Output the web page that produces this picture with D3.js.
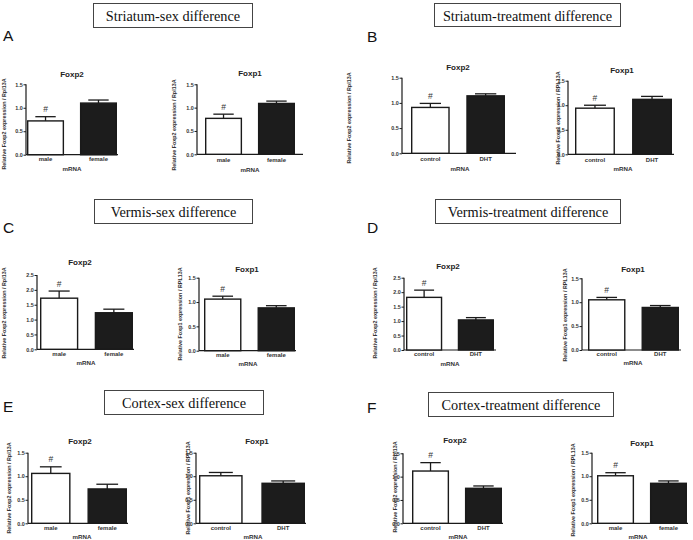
<!DOCTYPE html>
<html>
<head>
<meta charset="utf-8">
<script src="https://cdn.jsdelivr.net/npm/d3@7"></script>
<style>
  html, body { margin: 0; padding: 0; background: #fff; }
  svg { display: block; }
</style>
</head>
<body>
<svg id="chart" width="693" height="540"></svg>
<script>
// ---------------- DATA ----------------
const panelLetters = ["A", "B", "C", "D", "E", "F"];
const panelTitles = [
  "Striatum-sex difference", "Striatum-treatment difference",
  "Vermis-sex difference", "Vermis-treatment difference",
  "Cortex-sex difference", "Cortex-treatment difference"
];
// 12 sub-plots, two per panel (left, right)
const plotTitles = ["Foxp2", "Foxp1", "Foxp2", "Foxp1", "Foxp2", "Foxp1",
                    "Foxp2", "Foxp1", "Foxp2", "Foxp1", "Foxp2", "Foxp1"];
const sexCategories = ["male", "female"];
const treatmentCategories = ["control", "DHT"];
const plotCategories = [
  sexCategories, sexCategories,
  treatmentCategories, treatmentCategories,
  sexCategories, sexCategories,
  treatmentCategories, treatmentCategories,
  sexCategories, treatmentCategories,
  treatmentCategories, sexCategories
];
const meanValues = [
  [0.72, 1.10], [0.77, 1.09],
  [0.91, 1.14], [0.94, 1.12],
  [1.72, 1.23], [1.06, 0.88],
  [1.82, 1.04], [1.05, 0.89],
  [1.06, 0.73], [1.01, 0.85],
  [1.12, 0.75], [1.01, 0.85]
];
const semValues = [
  [0.09, 0.065], [0.09, 0.05],
  [0.08, 0.04], [0.06, 0.06],
  [0.24, 0.12], [0.06, 0.045],
  [0.25, 0.08], [0.05, 0.04],
  [0.14, 0.10], [0.07, 0.05],
  [0.18, 0.05], [0.065, 0.05]
];
const significantFirst = [true, true, true, true, true, true,
                          true, true, true, false, true, true];
const yMaxValues = [1.5, 1.5, 1.5, 1.5, 2.5, 1.5, 2.5, 1.5, 1.5, 1.5, 1.5, 1.5];
const yTickStep = 0.5;
const yAxisLabels = [
  "Relative Foxp2 expression / Rpl13A", "Relative Foxp2 expression / Rpl13A",
  "Relative Foxp2 expression / Rpl13A", "Relative Foxp1 expression / RPL13A",
  "Relative Foxp2 expression / Rpl13A", "Relative Foxp1 expression / RPL13A",
  "Relative Foxp2 expression / Rpl13A", "Relative Foxp1 expression / RPL13A",
  "Relative Foxp2 expression / Rpl13A", "Relative Foxp1 expression / RPL13A",
  "Relative Foxp2 expression / Rpl13A", "Relative Foxp1 expression / RPL13A"
];
const xAxisTitle = "mRNA";
const sigMark = "#";

// ---------------- LAYOUT ----------------
const panelLayout = [
  { box: [93, 3, 159, 24],  letter: [3, 41] },
  { box: [434, 3, 186, 23], letter: [367, 42] },
  { box: [94, 199, 158, 24], letter: [3, 233] },
  { box: [435, 199, 185, 24], letter: [367, 233] },
  { box: [104, 390, 159, 24], letter: [3, 412] },
  { box: [428, 392, 185, 24], letter: [367, 413] }
];
// ax: y-axis x, x0/x1: bar range, xEnd: x-axis end, y0: zero px, yT: top tick px
const plotLayout = [
  { ax: 26,  x0: 27,  x1: 117, xEnd: 118, y0: 154.7, yT: 84.3, title: [72, 74],   tickY: 159.3, mrna: [72, 168.3], ylab: [3.5, 124] },
  { ax: 197, x0: 205, x1: 295, xEnd: 303, y0: 154.3, yT: 84.3, title: [250, 73],  tickY: 160,   mrna: [250, 169],  ylab: [174, 125] },
  { ax: 402, x0: 411, x1: 505, xEnd: 516, y0: 153.3, yT: 77.7, title: [458, 67],  tickY: 159.3, mrna: [460, 168.3], ylab: [348.5, 118] },
  { ax: 568, x0: 575, x1: 672, xEnd: 674, y0: 154.3, yT: 80.7, title: [622, 70],  tickY: 160,   mrna: [623, 168.3], ylab: [558, 118] },
  { ax: 37,  x0: 40,  x1: 133, xEnd: 134, y0: 349.3, yT: 275,  title: [80, 262.3], tickY: 354.3, mrna: [86, 362.5], ylab: [3.5, 313] },
  { ax: 199, x0: 204, x1: 295, xEnd: 296, y0: 350.7, yT: 277.7, title: [247, 269.3], tickY: 354.8, mrna: [248, 363], ylab: [180, 314] },
  { ax: 404, x0: 406, x1: 494, xEnd: 496, y0: 350,   yT: 277.7, title: [448, 266.7], tickY: 354.3, mrna: [450, 363], ylab: [375, 313] },
  { ax: 582, x0: 588, x1: 679, xEnd: 681, y0: 350,   yT: 278.3, title: [633, 269], tickY: 354.3, mrna: [633, 362.5], ylab: [565, 315] },
  { ax: 28,  x0: 31,  x1: 127, xEnd: 128, y0: 523.3, yT: 452.7, title: [80, 441],  tickY: 528.3, mrna: [82, 536.7], ylab: [9, 488] },
  { ax: 196, x0: 199, x1: 305, xEnd: 306, y0: 523.3, yT: 452.7, title: [257, 441.7], tickY: 528.3, mrna: [253, 536.7], ylab: [188, 488] },
  { ax: 403, x0: 412, x1: 502, xEnd: 503, y0: 523.3, yT: 453.3, title: [455, 440.7], tickY: 528.3, mrna: [458, 536.7], ylab: [395, 487] },
  { ax: 592, x0: 597, x1: 687, xEnd: 688, y0: 523.3, yT: 452.7, title: [642, 443.3], tickY: 528.3, mrna: [638, 536.7], ylab: [573, 490] }
];

const SANS = "'Liberation Sans', Arial, sans-serif";
const SERIF = "'Liberation Serif', 'Times New Roman', serif";
const INK = "#1a1a1a";

const svg = d3.select("#chart");

// ---------------- PANEL TITLES & LETTERS ----------------
panelLetters.forEach((L, i) => {
  const p = panelLayout[i];
  const g = svg.append("g");
  g.append("rect")
    .attr("x", p.box[0] + 0.5).attr("y", p.box[1] + 0.5)
    .attr("width", p.box[2]).attr("height", p.box[3])
    .attr("fill", "#fff").attr("stroke", "#444").attr("stroke-width", 1);
  g.append("text")
    .attr("x", p.box[0] + p.box[2] / 2 + 0.5).attr("y", p.box[1] + p.box[3] / 2 + 1)
    .attr("text-anchor", "middle").attr("dominant-baseline", "central")
    .attr("font-family", SERIF).attr("font-size", 14.3).attr("fill", "#111")
    .text(panelTitles[i]);
  g.append("text")
    .attr("x", p.letter[0]).attr("y", p.letter[1])
    .attr("font-family", SANS).attr("font-size", 15.5).attr("fill", "#111")
    .text(L);
});

// ---------------- SUB-PLOTS ----------------
plotLayout.forEach((lay, k) => {
  const g = svg.append("g");
  const cats = plotCategories[k];
  const x = d3.scaleBand().domain(cats).range([lay.x0, lay.x1])
    .paddingInner(0.3).paddingOuter(0);
  const y = d3.scaleLinear().domain([0, yMaxValues[k]]).range([lay.y0, lay.yT]);
  const ticks = d3.range(0, yMaxValues[k] + 1e-9, yTickStep);

  // y axis
  const yAxis = d3.axisLeft(y).tickValues(ticks).tickFormat(d3.format(".1f"))
    .tickSize(2.5).tickPadding(0.8);
  const ya = g.append("g").attr("transform", `translate(${lay.ax},0)`).call(yAxis);
  ya.select(".domain").attr("stroke", INK).attr("stroke-width", 1.2)
    .attr("d", `M0,${lay.y0}V${lay.yT}`);
  ya.selectAll(".tick line").attr("stroke", INK).attr("stroke-width", 1);
  ya.selectAll(".tick text").attr("font-family", SANS).attr("font-size", 5.4)
    .attr("font-weight", "bold").attr("fill", "#333");

  // x axis line
  g.append("line")
    .attr("x1", lay.ax).attr("x2", lay.xEnd)
    .attr("y1", lay.y0).attr("y2", lay.y0)
    .attr("stroke", INK).attr("stroke-width", 1.2);

  // x tick labels
  g.selectAll("text.xt").data(cats).join("text")
    .attr("class", "xt")
    .attr("x", d => x(d) + x.bandwidth() / 2).attr("y", lay.tickY)
    .attr("text-anchor", "middle").attr("dominant-baseline", "central")
    .attr("font-family", SANS).attr("font-size", 6).attr("font-weight", "bold")
    .attr("fill", "#333").text(d => d);

  const rows = cats.map((c, j) => ({
    c, j, v: meanValues[k][j], e: semValues[k][j]
  }));

  // error bars (upper only)
  const capW = x.bandwidth() * 0.55;
  rows.forEach(r => {
    const cx = x(r.c) + x.bandwidth() / 2;
    g.append("line").attr("x1", cx).attr("x2", cx)
      .attr("y1", y(r.v)).attr("y2", y(r.v + r.e))
      .attr("stroke", INK).attr("stroke-width", 1.3);
    g.append("line").attr("x1", cx - capW / 2).attr("x2", cx + capW / 2)
      .attr("y1", y(r.v + r.e)).attr("y2", y(r.v + r.e))
      .attr("stroke", INK).attr("stroke-width", 1.3);
  });

  // bars
  g.selectAll("rect.bar").data(rows).join("rect")
    .attr("class", "bar")
    .attr("x", d => x(d.c) + 0.7).attr("width", x.bandwidth() - 1.4)
    .attr("y", d => y(d.v)).attr("height", d => lay.y0 - y(d.v))
    .attr("fill", d => d.j === 0 ? "#fff" : "#1c1c1c")
    .attr("stroke", INK).attr("stroke-width", 1.4);

  // significance mark
  if (significantFirst[k]) {
    const r = rows[0];
    g.append("text")
      .attr("x", x(r.c) + x.bandwidth() / 2).attr("y", y(r.v + r.e) - 7.5)
      .attr("text-anchor", "middle").attr("dominant-baseline", "central")
      .attr("font-family", SANS).attr("font-size", 8.5).attr("fill", "#333")
      .text(sigMark);
  }

  // plot title
  g.append("text")
    .attr("x", lay.title[0]).attr("y", lay.title[1])
    .attr("text-anchor", "middle").attr("dominant-baseline", "central")
    .attr("font-family", SANS).attr("font-size", 8).attr("font-weight", "bold")
    .attr("fill", "#222").text(plotTitles[k]);

  // x axis title
  g.append("text")
    .attr("x", lay.mrna[0]).attr("y", lay.mrna[1])
    .attr("text-anchor", "middle").attr("dominant-baseline", "central")
    .attr("font-family", SANS).attr("font-size", 6.2).attr("font-weight", "bold")
    .attr("fill", "#333").text(xAxisTitle);

  // y axis title
  g.append("text")
    .attr("transform", `translate(${lay.ylab[0]},${lay.ylab[1]}) rotate(-90)`)
    .attr("text-anchor", "middle").attr("dominant-baseline", "central")
    .attr("font-family", SANS).attr("font-size", 5.4).attr("font-weight", "bold")
    .attr("fill", "#333").text(yAxisLabels[k]);
});
</script>
</body>
</html>
